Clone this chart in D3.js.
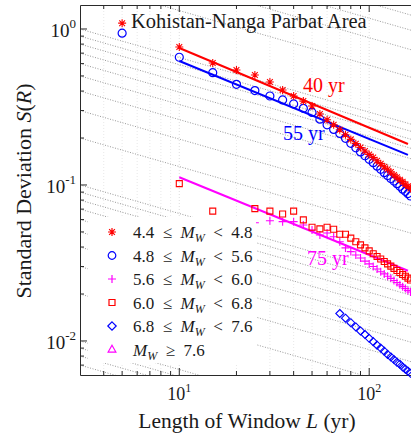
<!DOCTYPE html>
<html><head><meta charset="utf-8">
<script src="https://cdn.jsdelivr.net/npm/d3@7"></script>
<style>
body{margin:0;background:#fff}
svg text{font-family:"Liberation Serif","Times New Roman",serif;fill:#1a1a1a}
</style>
</head><body>
<svg id="chart" width="411" height="437"></svg>
<script>
// ---------------- data ----------------
const lengthsA = [5,10,15,20,25,30,35,40,45,50,55,60,65,70,75,80,85,90,95,100,105,110,115,120,125,130,135,140,145,150,155,160,165];
const stars44 = [1.09,0.767,0.605,0.546,0.507,0.457,0.406,0.372,0.345,0.321,0.285,0.262,0.243,0.226,0.210,0.196,0.184,0.174,0.165,0.157,0.150,0.143,0.137,0.131,0.126,0.121,0.116,0.112,0.108,0.105,0.101,0.098,0.095];
const circles48 = [0.94,0.659,0.525,0.442,0.403,0.372,0.351,0.331,0.310,0.292,0.264,0.243,0.227,0.214,0.199,0.185,0.173,0.163,0.154,0.146,0.139,0.132,0.126,0.120,0.115,0.110,0.106,0.102,0.098,0.094,0.091,0.088,0.085];
const lengthsSq = [10,15,25,30,35,40,45,50,55,60,65,70,75,80,85,90,95,100,105,110,115,120,125,130,135,140,145,150,155,160,165];
const squares60 = [0.102,0.068,0.0705,0.068,0.0652,0.068,0.0597,0.0536,0.0523,0.0536,0.052,0.0483,0.0483,0.0456,0.0433,0.0413,0.0395,0.0378,0.0362,0.0348,0.0335,0.0323,0.0312,0.0302,0.0292,0.0283,0.0275,0.0267,0.0260,0.0253,0.0246];
const lengthsPlus = [25,30,35,40,45,50,55,60,65,70,75,80,85,90,95,100,105,110,115,120,125,130,135,140,145,150,155,160,165];
const plus56 = [0.0573,0.059,0.0582,0.0582,0.0554,0.0515,0.0478,0.0492,0.0466,0.0433,0.0395,0.0374,0.0356,0.0340,0.0325,0.0312,0.0300,0.0289,0.0278,0.0269,0.0260,0.0252,0.0244,0.0237,0.0229,0.0223,0.0217,0.0211,0.0206];
const lengthsDia = [70,75,80,85,90,95,100,105,110,115,120,125,130,135,140,145,150,155,160,165];
const diamonds68 = [0.0150,0.0140,0.0131,0.0123,0.0116,0.0110,0.0104,0.0099,0.0094,0.0090,0.0086,0.0082,0.0079,0.0076,0.0073,0.0071,0.0068,0.0066,0.0064,0.0062];
const fitLengths = [10,160];
const fit40 = [0.755,0.183];
const fit55 = [0.623,0.156];
const fit75 = [0.112,0.0282];
const fitLabels = ["40 yr","55 yr","75 yr"];
const legendLabels = [["4.4","4.8"],["4.8","5.6"],["5.6","6.0"],["6.0","6.8"],["6.8","7.6"],[null,"7.6"]];
const xTickExps = [1,2];
const yTickExps = [0,-1,-2];
const areaTitle = "Kohistan-Nanga Parbat Area";

// ---------------- layout ----------------
const svg = d3.select("#chart");
const X0 = 80, X1 = 411, Y0 = 5, Y1 = 375;
const x = d3.scaleLog().domain([3,166]).range([X0,X1]);
const y = d3.scaleLog().domain([0.00605,1.425]).range([Y1,Y0]);

svg.append("defs").append("clipPath").attr("id","plotclip")
  .append("rect").attr("x",X0).attr("y",Y0).attr("width",X1-X0).attr("height",Y1-Y0);

const gGrid = svg.append("g").attr("clip-path","url(#plotclip)");
const xMinor = [];
[1,10,100].forEach(d=>{for(let k=1;k<=9;k++){const v=k*d; if(v>3 && v<166) xMinor.push(v);}});
gGrid.selectAll("line.vg").data(xMinor).join("line")
  .attr("x1",d=>x(d)).attr("x2",d=>x(d)).attr("y1",Y0).attr("y2",Y1)
  .attr("stroke",d=>(d===10||d===100)?"#d4d4d4":"#e2e2e2").attr("stroke-width",0.8).attr("stroke-dasharray","1,2");
const guideStarts = [];
[-3,-2,-1,0].forEach(d=>{for(let k=1;k<=9;k++) guideStarts.push(k*Math.pow(10,d));});
const guideExp = -0.35;
gGrid.selectAll("line.gd").data(guideStarts).join("line")
  .attr("x1",x(3)).attr("y1",d=>y(d))
  .attr("x2",x(166)).attr("y2",d=>y(d*Math.pow(166/3,guideExp)))
  .attr("stroke","#7d7d7d").attr("stroke-width",0.8).attr("stroke-dasharray","1,1.6");

// ---------------- axes ----------------
const gAx = svg.append("g");
const axColor = "#2a2a2a";
gAx.append("path").attr("d",`M${X1+1},${Y0+0.5}H${X0+0.5}V${Y1+0.5}H${X1+1}`)
  .attr("fill","none").attr("stroke",axColor).attr("stroke-width",1);
const xMaj = xTickExps.map(e=>Math.pow(10,e));
xMinor.forEach(v=>{
  const L = xMaj.includes(v)?7:4;
  gAx.append("line").attr("x1",x(v)).attr("x2",x(v)).attr("y1",Y1).attr("y2",Y1-L).attr("stroke",axColor);
  gAx.append("line").attr("x1",x(v)).attr("x2",x(v)).attr("y1",Y0).attr("y2",Y0+L).attr("stroke",axColor);
});
const yMinor=[];
[-3,-2,-1,0].forEach(d=>{for(let k=1;k<=9;k++){const v=k*Math.pow(10,d); if(v>=0.00605&&v<=1.425) yMinor.push(v);}});
yMinor.forEach(v=>{
  const major = Math.abs(Math.log10(v)-Math.round(Math.log10(v)))<1e-9;
  gAx.append("line").attr("x1",X0).attr("x2",X0+(major?7:4)).attr("y1",y(v)).attr("y2",y(v)).attr("stroke",axColor);
});
xTickExps.forEach(e=>{
  const t = gAx.append("text").attr("x",x(Math.pow(10,e))).attr("y",400).attr("text-anchor","middle").attr("font-size",18);
  t.append("tspan").text("10");
  t.append("tspan").attr("font-size",12).attr("dy",-8).text(String(e));
});
yTickExps.forEach(e=>{
  const t = gAx.append("text").attr("x",76).attr("y",y(Math.pow(10,e))+8).attr("text-anchor","end").attr("font-size",19);
  t.append("tspan").text("10");
  t.append("tspan").attr("font-size",13).attr("dy",-9).text(e<0?"-"+Math.abs(e):String(e));
});
const xt = svg.append("text").attr("x",247).attr("y",428).attr("text-anchor","middle").attr("font-size",21.5);
xt.append("tspan").text("Length of Window ");
xt.append("tspan").attr("font-style","italic").text("L");
xt.append("tspan").text(" (yr)");
const yt = svg.append("text").attr("transform","translate(31,191) rotate(-90)").attr("text-anchor","middle").attr("font-size",22);
yt.append("tspan").text("Standard Deviation ");
yt.append("tspan").attr("font-style","italic").text("S");
yt.append("tspan").text("(");
yt.append("tspan").attr("font-style","italic").text("R");
yt.append("tspan").text(")");

// ---------------- fit lines ----------------
const gFit = svg.append("g");
const line = d3.line().x(d=>x(d[0])).y(d=>y(d[1]));
[[fit40,"#ff0000"],[fit55,"#0000ff"],[fit75,"#ff00ff"]].forEach(([vals,c])=>{
  gFit.append("path").attr("d",line(fitLengths.map((l,i)=>[l,vals[i]])))
    .attr("fill","none").attr("stroke",c).attr("stroke-width",2);
});
svg.append("text").attr("x",303).attr("y",92).attr("font-size",20).style("fill","#ff0000").text(fitLabels[0]);
svg.append("text").attr("x",283).attr("y",140).attr("font-size",20).style("fill","#0000ff").text(fitLabels[1]);
svg.append("text").attr("x",307).attr("y",265).attr("font-size",20).style("fill","#ff00ff").text(fitLabels[2]);

// ---------------- markers ----------------
const sym = {
  star: r=>`M${-r},0H${r}M0,${-r}V${r}M${-r*0.72},${-r*0.72}L${r*0.72},${r*0.72}M${-r*0.72},${r*0.72}L${r*0.72},${-r*0.72}`,
  circle: r=>`M${r},0A${r},${r},0,1,1,${-r},0A${r},${r},0,1,1,${r},0Z`,
  plus: r=>`M${-r},0H${r}M0,${-r}V${r}`,
  square: r=>`M${-r},${-r}H${r}V${r}H${-r}Z`,
  diamond: r=>`M0,${-r}L${r},0L0,${r}L${-r},0Z`,
  triangle: r=>`M0,${-r}L${r*0.9},${r*0.6}L${-r*0.9},${r*0.6}Z`
};
const gM = svg.append("g");
function drawSeries(Ls, vals, shape, r, color, sw){
  gM.append("g").selectAll("path").data(Ls.map((l,i)=>[l,vals[i]])).join("path")
    .attr("transform",d=>`translate(${x(d[0])},${y(d[1])})`)
    .attr("d",sym[shape](r)).attr("fill","none").attr("stroke",color).attr("stroke-width",sw);
}
drawSeries(lengthsDia, diamonds68, "diamond", 4, "#0000ff", 1.1);
drawSeries(lengthsPlus, plus56, "plus", 4, "#ff00ff", 1.1);
drawSeries(lengthsSq, squares60, "square", 3, "#ff0000", 1.1);
drawSeries(lengthsA, circles48, "circle", 4, "#0000ff", 1.2);
drawSeries(lengthsA, stars44, "star", 4, "#ff0000", 1.1);

svg.append("text").attr("x",131).attr("y",28).attr("font-size",20.5).text(areaTitle);

// ---------------- legend ----------------
const gL = svg.append("g");
gL.append("rect").attr("x",88).attr("y",217).attr("width",168).attr("height",146).attr("fill","#fff");
const legShapes = [["star","#ff0000",4],["circle","#0000ff",3.8],["plus","#ff00ff",4],["square","#ff0000",3],["diamond","#0000ff",4.2],["triangle","#ff00ff",4.3]];
const SP = "\u2002";
legendLabels.forEach((lab,i)=>{
  const yy = 232 + i*23.5;
  const s = legShapes[i];
  gL.append("path").attr("transform",`translate(112,${yy})`).attr("d",sym[s[0]](s[2]))
    .attr("fill","none").attr("stroke",s[1]).attr("stroke-width",1.2);
  const t = gL.append("text").attr("x",133).attr("y",yy+6).attr("font-size",17);
  if(lab[0]) t.append("tspan").text(lab[0]+SP+"≤"+SP);
  t.append("tspan").attr("font-style","italic").text("M");
  t.append("tspan").attr("font-style","italic").attr("font-size",12).attr("dy",4).text("W");
  t.append("tspan").attr("dy",-4).text(SP+(lab[0]?"<":"≥")+SP+lab[1]);
});
</script>
</body></html>
